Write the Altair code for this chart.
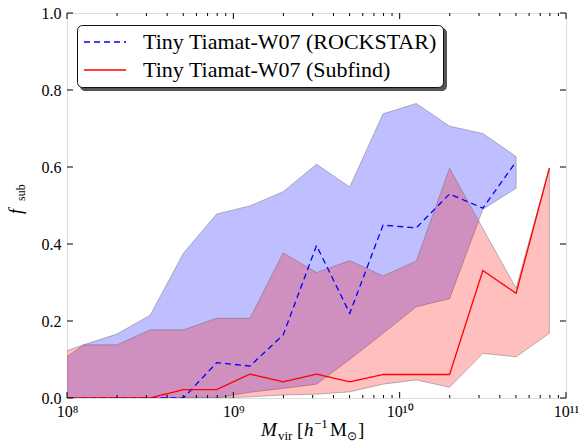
import altair as alt
import pandas as pd

# ---------------- data ----------------
series_names = ["Tiny Tiamat-W07 (ROCKSTAR)", "Tiny Tiamat-W07 (Subfind)"]

log_mass = [7.9, 8.1, 8.3, 8.5, 8.7, 8.9, 9.1, 9.3, 9.5, 9.7, 9.9, 10.1, 10.3, 10.5, 10.7, 10.9]

rock_med = [0.0, 0.0, 0.0, 0.0, 0.0, 0.092, 0.083, 0.164, 0.396, 0.22, 0.449, 0.442, 0.53, 0.493, 0.614]
rock_hi = [0.076, 0.138, 0.166, 0.215, 0.376, 0.478, 0.499, 0.536, 0.607, 0.548, 0.738, 0.765, 0.706, 0.687, 0.627]
rock_lo = [0.0, 0.0, 0.0, 0.0, 0.0, 0.0, 0.015, 0.025, 0.036, 0.10, 0.168, 0.237, 0.258, 0.49, 0.545]

sub_med = [0.0, 0.0, 0.0, 0.0, 0.022, 0.022, 0.062, 0.042, 0.062, 0.042, 0.061, 0.061, 0.061, 0.331, 0.272, 0.597]
sub_hi = [0.108, 0.138, 0.138, 0.177, 0.177, 0.207, 0.207, 0.377, 0.326, 0.357, 0.317, 0.356, 0.597, 0.44, 0.285, 0.597]
sub_lo = [0.0, 0.0, 0.0, 0.0, 0.0, 0.0, 0.003, 0.008, 0.01, 0.016, 0.036, 0.047, 0.028, 0.116, 0.107, 0.168]

x_major = [1e8, 1e9, 1e10, 1e11]
x_minor = [k * 10.0 ** e for e in (8, 9, 10) for k in range(2, 10)]
y_major = [0.0, 0.2, 0.4, 0.6, 0.8, 1.0]

# ---------------- tables ----------------
rock_df = pd.DataFrame({
    "M": [10 ** v for v in log_mass[:len(rock_med)]],
    "med": rock_med, "lo": rock_lo, "hi": rock_hi,
    "series": series_names[0],
})
sub_df = pd.DataFrame({
    "M": [10 ** v for v in log_mass[:len(sub_med)]],
    "med": sub_med, "lo": sub_lo, "hi": sub_hi,
    "series": series_names[1],
})
all_df = pd.concat([rock_df, sub_df], ignore_index=True)

W, H = 499, 385
FONT = "Liberation Serif"

xscale = alt.Scale(type="log", domain=[1e8, 1e11], nice=False)
yscale = alt.Scale(domain=[0, 1], nice=False, zero=False)

xaxis = alt.Axis(
    values=x_major,
    labelExpr="datum.value < 5e8 ? '10⁸' : datum.value < 5e9 ? '10⁹' : datum.value < 5e10 ? '10¹⁰' : '10¹¹'",
    ticks=False, domain=False, grid=False, title=None,
    labelFont=FONT, labelFontSize=16, labelColor="black", labelPadding=5,
    labelFlush=False, labelOverlap=False,
)
yaxis = alt.Axis(
    values=y_major, format=".1f",
    ticks=False, domain=False, grid=False, title=None,
    labelFont=FONT, labelFontSize=16, labelColor="black", labelPadding=6,
    labelFlush=False, labelOverlap=False,
)

X = alt.X("M:Q", scale=xscale, axis=xaxis)

band_rock = alt.Chart(rock_df).mark_area(
    fill="#0000ff", fillOpacity=0.25, stroke="#666666", strokeOpacity=0.45,
    strokeWidth=1, clip=True,
).encode(x=X, y=alt.Y("lo:Q", scale=yscale, axis=yaxis), y2="hi:Q")

band_sub = alt.Chart(sub_df).mark_area(
    fill="#ff0000", fillOpacity=0.25, stroke="#666666", strokeOpacity=0.45,
    strokeWidth=1, clip=True,
).encode(x=X, y=alt.Y("lo:Q", scale=yscale, axis=yaxis), y2="hi:Q")

legend = alt.Legend(
    title=None, orient="none", legendX=10, legendY=12, direction="vertical",
    fillColor="white", strokeColor="#111111", cornerRadius=5, padding=6,
    symbolType="stroke", symbolSize=1764, symbolStrokeWidth=1.3,
    labelFont=FONT, labelFontSize=22, labelColor="black", labelOffset=16,
    labelLimit=500, rowPadding=6, clipHeight=22,
)

lines = alt.Chart(all_df).mark_line(strokeWidth=1.3, clip=True).encode(
    x=X,
    y=alt.Y("med:Q", scale=yscale, axis=yaxis),
    color=alt.Color("series:N", scale=alt.Scale(domain=series_names, range=["#0000ff", "#ff0000"]), legend=legend),
    strokeDash=alt.StrokeDash("series:N", scale=alt.Scale(domain=series_names, range=[[6, 4], [1, 0]]), legend=legend),
)

# ---------------- inward tick marks on all four sides ----------------
xmaj_df = pd.DataFrame({"v": x_major})
xmin_df = pd.DataFrame({"v": x_minor})
ymaj_df = pd.DataFrame({"v": y_major})

def xticks(df, length, top):
    y0 = 0 if top else H
    y1 = length if top else H - length
    return alt.Chart(df).mark_rule(color="black", strokeWidth=1).encode(
        x=alt.X("v:Q", scale=xscale, axis=xaxis), y=alt.value(y0), y2=alt.value(y1))

def yticks(df, length, right):
    x0 = W if right else 0
    x1 = W - length if right else length
    return alt.Chart(df).mark_rule(color="black", strokeWidth=1).encode(
        y=alt.Y("v:Q", scale=yscale, axis=yaxis), x=alt.value(x0), x2=alt.value(x1))

tick_layers = [
    xticks(xmaj_df, 6, False), xticks(xmaj_df, 6, True),
    xticks(xmin_df, 3, False), xticks(xmin_df, 3, True),
    yticks(ymaj_df, 6, False), yticks(ymaj_df, 6, True),
]

# ---------------- legend shadow ----------------
shadow = alt.Chart(pd.DataFrame({"k": [0]})).mark_rect(
    color="#555555", cornerRadius=5
).encode(x=alt.value(13), x2=alt.value(380), y=alt.value(15), y2=alt.value(78))

# ---------------- axis titles built from text pieces ----------------
def piece(txt, x, y, size, style="normal", angle=0):
    kw = dict(font=FONT, fontSize=size, fontStyle=style, align="left",
              baseline="alphabetic", color="black")
    if angle:
        kw["angle"] = angle
    return alt.Chart(pd.DataFrame({"t": [txt]})).mark_text(**kw).encode(
        text="t:N", x=alt.value(x), y=alt.value(y))

title_layers = [
    piece("M", 194, 423, 19, "italic"),
    piece("vir", 211, 427, 13),
    piece("[", 230, 423, 19),
    piece("h", 237, 423, 19, "italic"),
    piece("−1", 247, 415, 13),
    piece("M", 263, 423, 19),
    piece("⊙", 280, 427, 12),
    piece("]", 291, 423, 19),
    piece("f", -45, 201, 18, "italic", 270),
    piece("sub", -42, 188, 12, "normal", 270),
]

chart = alt.layer(
    band_rock, band_sub, lines, shadow, *tick_layers, *title_layers
).properties(
    width=W, height=H,
    autosize=alt.AutoSizeParams(type="none"),
    padding={"left": 59, "top": 5, "right": 12, "bottom": 45},
).configure_view(
    stroke="black", strokeWidth=1.2
).configure(background="white")

chart.save("out.html", embed_options={"renderer": "svg", "actions": False})
